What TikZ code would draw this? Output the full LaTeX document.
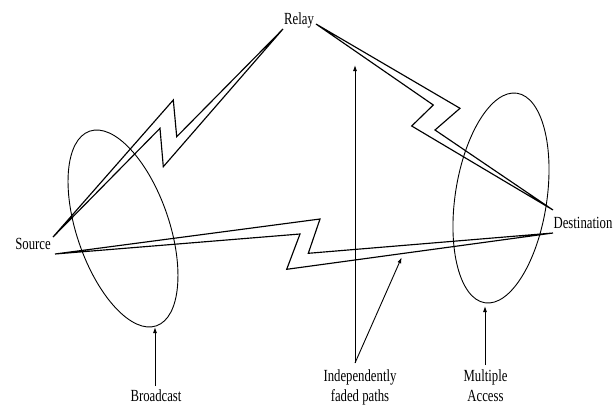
\documentclass[tikz,border=0pt]{standalone}
\usepackage{fontspec}
\usepackage{graphicx}
\setmainfont{Liberation Serif}
\usetikzlibrary{arrows.meta}
\newcommand{\sq}[1]{\scalebox{0.75}[1]{#1}}
\begin{document}
\begin{tikzpicture}[x=1pt,y=-1pt,
  lbl/.style={inner sep=0pt,font=\fontsize{17}{19.5}\selectfont},
  bolt/.style={line width=1.15pt,line join=miter},
  ring/.style={line width=0.9pt},
  pointer/.style={line width=0.9pt,-{Latex[length=6pt,width=4pt]}}]
\useasboundingbox (0,0) rectangle (616,405);
% labels
\node[lbl,anchor=base] (relay) at (299,24) {\sq{Relay}};
\node[lbl,anchor=base] (source) at (33,249) {\sq{Source}};
\node[lbl,anchor=base] (dest) at (583,228) {\sq{Destination}};
\node[lbl,anchor=base] (bcast) at (156,401.5) {\sq{Broadcast}};
\node[lbl] (ifp) at (360,387.6) {\sq{\begin{tabular}{@{}c@{}}Independently\\faded paths\end{tabular}}};
\node[lbl] (macc) at (485.5,387.6) {\sq{\begin{tabular}{@{}c@{}}Multiple\\Access\end{tabular}}};
% ellipses
\coordinate (lc) at (123,228.5);
\coordinate (rc) at (501,198);
\draw[ring,rotate around={18.9:(lc)}] (lc) ellipse [x radius=46.2pt,y radius=102.9pt];
\draw[ring,rotate around={-8.7:(rc)}] (rc) ellipse [x radius=45.8pt,y radius=106pt];
% relay - source bolt
\coordinate (r1) at (283,29);
\coordinate (s1) at (53,237);
\coordinate (a1) at (176.7,136.7);
\coordinate (a2) at (173.3,100);
\coordinate (b2) at (160,128.3);
\coordinate (b1) at (163.3,166.7);
\draw[bolt] (r1) -- (a1) -- (a2) -- (s1) -- (b2) -- (b1) -- cycle;
% source - destination bolt
\coordinate (s2) at (55,254);
\coordinate (d1) at (553,233);
\coordinate (c1) at (320,219);
\coordinate (c2) at (308.3,253.3);
\coordinate (e2) at (286.7,269.3);
\coordinate (e1) at (300,234);
\draw[bolt] (s2) -- (c1) -- (c2) -- (d1) -- (e2) -- (e1) -- cycle;
% relay - destination bolt
\coordinate (r2) at (316,24);
\coordinate (d2) at (553,210);
\coordinate (f1) at (433.3,105);
\coordinate (f2) at (411.7,126);
\coordinate (g2) at (435,130);
\coordinate (g1) at (460,108.3);
\draw[bolt] (r2) -- (f1) -- (f2) -- (d2) -- (g2) -- (g1) -- cycle;
% pointers
\coordinate (bs) at (155,386);
\coordinate (be) at (155,327);
\draw[pointer] (bs) -- (be);
\coordinate (is) at (355,363);
\coordinate (it) at (355,65);
\coordinate (id) at (401.7,257.3);
\draw[pointer] (is) -- (it);
\draw[pointer] (is) -- (id);
\coordinate (ms) at (485,365);
\coordinate (me) at (485,306);
\draw[pointer] (ms) -- (me);
\end{tikzpicture}
\end{document}
